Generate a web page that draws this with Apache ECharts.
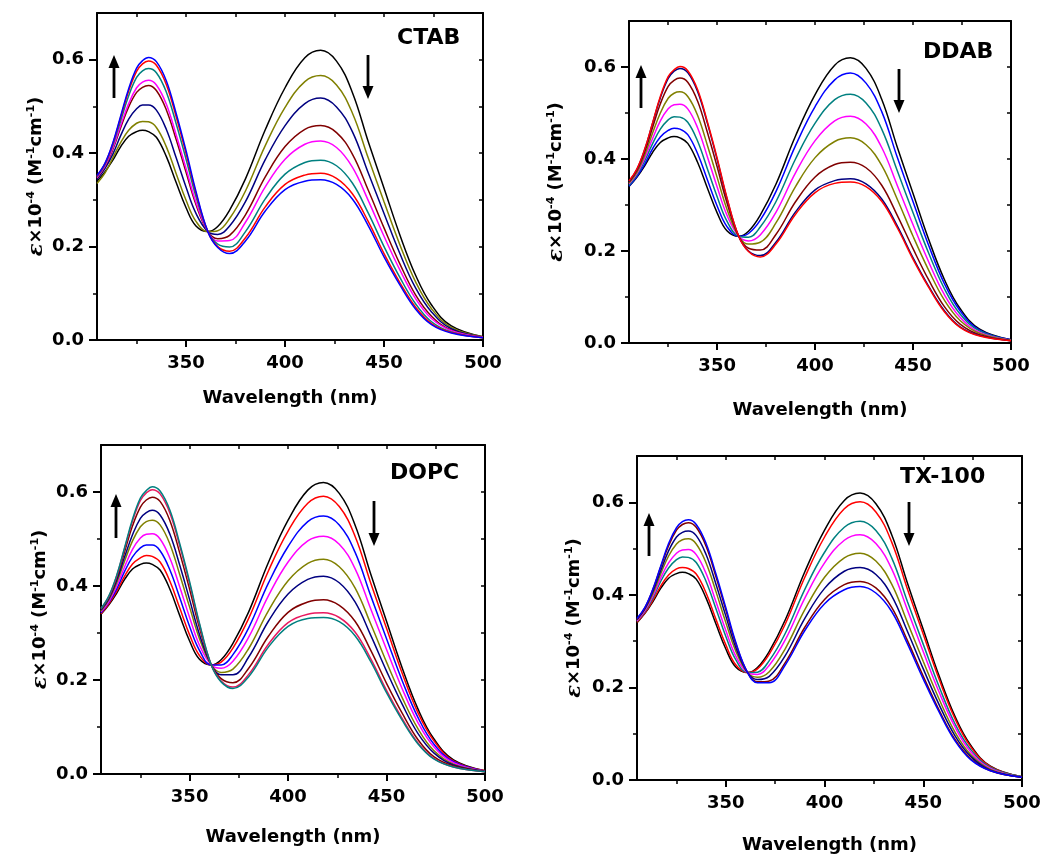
<!DOCTYPE html>
<html>
<head>
<meta charset="utf-8">
<script src="https://cdn.jsdelivr.net/npm/echarts@6/dist/echarts.min.js"></script>
<style>
html,body{margin:0;padding:0;background:#fff;}
#chart{width:1046px;height:854px;}
</style>
</head>
<body>
<div id="chart"></div>
<script>
// ---------------- DATA ----------------
const wavelength = [305,309,313,317,321,325,328,331,335,340,345,350,355,361,366,372,380,390,400,410,418,426,434,442,450,458,466,474,484,500];
const xTickLabels = [350,400,450,500];
const xMinorTicks = [325,375,425,475];
const yTickLabels = [0,0.2,0.4,0.6];
const yMinorTicks = [0.1,0.3,0.5];

// reference spectrum (black, first in every panel)
const water = [0.340,0.360,0.385,0.414,0.436,0.446,0.449,0.446,0.434,0.393,0.337,0.283,0.244,0.232,0.243,0.278,0.345,0.450,0.540,0.604,0.620,0.597,0.530,0.425,0.325,0.225,0.138,0.075,0.030,0.007];

// CTAB
const ctab1 = [0.335,0.357,0.390,0.423,0.449,0.464,0.468,0.467,0.455,0.414,0.356,0.299,0.254,0.232,0.234,0.260,0.319,0.416,0.498,0.553,0.566,0.546,0.486,0.390,0.296,0.204,0.124,0.067,0.027,0.007];
const ctab2 = [0.344,0.367,0.398,0.438,0.473,0.495,0.503,0.503,0.492,0.451,0.390,0.327,0.271,0.232,0.226,0.244,0.296,0.386,0.459,0.506,0.518,0.499,0.446,0.358,0.271,0.185,0.111,0.060,0.024,0.006];
const ctab3 = [0.347,0.371,0.408,0.455,0.499,0.530,0.541,0.545,0.534,0.493,0.429,0.359,0.290,0.232,0.217,0.224,0.268,0.349,0.414,0.451,0.459,0.444,0.398,0.321,0.240,0.163,0.096,0.051,0.021,0.006];
const ctab4 = [0.348,0.372,0.411,0.460,0.506,0.540,0.552,0.556,0.546,0.505,0.439,0.367,0.295,0.232,0.212,0.213,0.252,0.328,0.387,0.419,0.426,0.412,0.370,0.299,0.222,0.150,0.088,0.046,0.020,0.006];
const ctab5 = [0.350,0.375,0.417,0.470,0.523,0.562,0.576,0.581,0.572,0.531,0.463,0.387,0.307,0.232,0.205,0.199,0.232,0.302,0.355,0.380,0.385,0.373,0.336,0.272,0.200,0.134,0.077,0.039,0.017,0.005];
const ctab6 = [0.351,0.377,0.420,0.477,0.533,0.575,0.591,0.597,0.588,0.547,0.478,0.399,0.314,0.232,0.200,0.190,0.219,0.285,0.333,0.353,0.357,0.346,0.313,0.254,0.185,0.123,0.070,0.035,0.016,0.005];
const ctab7 = [0.352,0.378,0.422,0.480,0.538,0.582,0.598,0.605,0.596,0.555,0.485,0.405,0.318,0.232,0.198,0.185,0.212,0.276,0.322,0.340,0.343,0.333,0.302,0.245,0.178,0.118,0.066,0.033,0.015,0.005];

// DDAB
const ddab1 = [0.341,0.362,0.389,0.422,0.448,0.462,0.467,0.465,0.453,0.412,0.355,0.298,0.253,0.232,0.238,0.267,0.329,0.429,0.514,0.572,0.587,0.565,0.503,0.403,0.307,0.212,0.129,0.070,0.028,0.007];
const ddab2 = [0.343,0.365,0.396,0.433,0.465,0.485,0.492,0.491,0.480,0.439,0.379,0.318,0.265,0.232,0.230,0.252,0.307,0.400,0.478,0.529,0.541,0.522,0.465,0.374,0.283,0.195,0.118,0.063,0.026,0.006];
const ddab3 = [0.346,0.368,0.402,0.444,0.483,0.509,0.518,0.519,0.509,0.468,0.405,0.339,0.278,0.232,0.222,0.235,0.284,0.370,0.440,0.483,0.493,0.476,0.425,0.342,0.257,0.176,0.105,0.056,0.023,0.006];
const ddab4 = [0.348,0.371,0.408,0.456,0.500,0.532,0.543,0.546,0.536,0.495,0.430,0.360,0.291,0.232,0.215,0.219,0.261,0.340,0.403,0.438,0.446,0.431,0.386,0.312,0.232,0.158,0.093,0.049,0.021,0.006];
const ddab5 = [0.350,0.375,0.415,0.468,0.520,0.558,0.571,0.576,0.567,0.526,0.458,0.383,0.305,0.232,0.206,0.202,0.236,0.307,0.361,0.388,0.393,0.381,0.343,0.277,0.205,0.137,0.079,0.041,0.018,0.005];
const ddab6 = [0.351,0.377,0.420,0.477,0.533,0.575,0.591,0.597,0.588,0.547,0.478,0.399,0.314,0.232,0.200,0.190,0.219,0.285,0.333,0.353,0.357,0.346,0.313,0.254,0.185,0.123,0.070,0.035,0.016,0.005];
const ddab7 = [0.352,0.378,0.421,0.478,0.536,0.579,0.594,0.601,0.592,0.551,0.481,0.402,0.316,0.232,0.199,0.187,0.215,0.280,0.327,0.347,0.350,0.340,0.308,0.250,0.182,0.121,0.068,0.034,0.015,0.005];

// DOPC
const dopc1 = [0.341,0.362,0.389,0.421,0.447,0.460,0.465,0.463,0.451,0.410,0.353,0.296,0.252,0.232,0.238,0.268,0.331,0.432,0.517,0.576,0.591,0.569,0.506,0.406,0.310,0.214,0.130,0.071,0.028,0.007];
const dopc2 = [0.343,0.365,0.394,0.431,0.462,0.481,0.487,0.487,0.475,0.434,0.375,0.314,0.263,0.232,0.232,0.254,0.311,0.406,0.484,0.537,0.549,0.530,0.472,0.379,0.288,0.198,0.120,0.064,0.026,0.006];
const dopc3 = [0.345,0.367,0.400,0.441,0.478,0.502,0.510,0.511,0.500,0.459,0.398,0.333,0.274,0.232,0.225,0.240,0.291,0.379,0.451,0.496,0.506,0.489,0.437,0.351,0.265,0.181,0.109,0.058,0.024,0.006];
const dopc4 = [0.347,0.371,0.407,0.453,0.496,0.526,0.537,0.540,0.530,0.489,0.424,0.355,0.288,0.232,0.216,0.223,0.267,0.347,0.411,0.448,0.457,0.441,0.396,0.319,0.238,0.162,0.096,0.050,0.021,0.006];
const dopc5 = [0.349,0.373,0.412,0.462,0.509,0.544,0.556,0.561,0.551,0.510,0.444,0.371,0.297,0.232,0.211,0.211,0.249,0.325,0.383,0.414,0.421,0.407,0.366,0.295,0.219,0.148,0.086,0.045,0.019,0.006];
const dopc6 = [0.351,0.376,0.418,0.473,0.528,0.568,0.583,0.589,0.580,0.539,0.470,0.393,0.311,0.232,0.203,0.194,0.225,0.293,0.344,0.366,0.371,0.359,0.325,0.263,0.193,0.129,0.073,0.037,0.017,0.005];
const dopc7 = [0.352,0.378,0.422,0.480,0.538,0.582,0.598,0.605,0.596,0.555,0.485,0.405,0.318,0.232,0.198,0.185,0.212,0.276,0.322,0.340,0.343,0.333,0.302,0.245,0.178,0.118,0.066,0.033,0.015,0.005];
const dopc8 = [0.352,0.379,0.423,0.482,0.542,0.587,0.603,0.611,0.602,0.561,0.490,0.409,0.321,0.232,0.196,0.182,0.207,0.270,0.314,0.331,0.333,0.324,0.294,0.239,0.173,0.114,0.064,0.032,0.015,0.005];

// TX-100
const tx1 = [0.341,0.361,0.388,0.419,0.443,0.456,0.459,0.457,0.445,0.404,0.347,0.292,0.249,0.232,0.240,0.272,0.336,0.438,0.525,0.586,0.601,0.579,0.514,0.412,0.315,0.218,0.133,0.072,0.029,0.007];
const tx2 = [0.343,0.364,0.393,0.429,0.458,0.476,0.482,0.481,0.470,0.429,0.370,0.310,0.260,0.232,0.233,0.258,0.316,0.412,0.492,0.546,0.559,0.539,0.480,0.385,0.293,0.202,0.122,0.066,0.027,0.007];
const tx3 = [0.344,0.366,0.397,0.436,0.469,0.490,0.497,0.498,0.487,0.446,0.385,0.323,0.268,0.232,0.228,0.248,0.302,0.393,0.469,0.518,0.530,0.511,0.456,0.367,0.277,0.190,0.115,0.061,0.025,0.006];
const tx4 = [0.346,0.369,0.402,0.445,0.484,0.510,0.519,0.521,0.510,0.469,0.407,0.340,0.279,0.232,0.222,0.234,0.283,0.368,0.438,0.480,0.490,0.473,0.423,0.340,0.256,0.175,0.104,0.055,0.023,0.006];
const tx5 = [0.347,0.370,0.407,0.452,0.495,0.525,0.535,0.538,0.528,0.487,0.423,0.354,0.287,0.232,0.217,0.224,0.268,0.349,0.414,0.451,0.459,0.444,0.398,0.321,0.240,0.163,0.096,0.051,0.021,0.006];
const tx6 = [0.348,0.372,0.411,0.460,0.506,0.540,0.552,0.556,0.546,0.505,0.439,0.367,0.295,0.232,0.212,0.214,0.253,0.330,0.390,0.422,0.429,0.415,0.373,0.301,0.224,0.151,0.088,0.046,0.020,0.006];
const tx7 = [0.349,0.373,0.412,0.462,0.511,0.545,0.558,0.562,0.552,0.511,0.445,0.372,0.298,0.232,0.210,0.210,0.248,0.323,0.381,0.411,0.418,0.404,0.364,0.294,0.218,0.147,0.085,0.044,0.020,0.006];

const panelNames = ['CTAB','DDAB','DOPC','TX-100'];
const panelSeries = [
  [water, ctab1, ctab2, ctab3, ctab4, ctab5, ctab6, ctab7],
  [water, ddab1, ddab2, ddab3, ddab4, ddab5, ddab6, ddab7],
  [water, dopc1, dopc2, dopc3, dopc4, dopc5, dopc6, dopc7, dopc8],
  [water, tx1, tx2, tx3, tx4, tx5, tx6, tx7]
];

// ---------------- STYLE / LAYOUT ----------------
const C = {k:'#000000', ol:'#808000', nv:'#000080', mr:'#800000', mg:'#FF00FF', tl:'#008080', rd:'#FF0000', bl:'#0000FF', cr:'#E8185E'};
const panelColors = [
  [C.k, C.ol, C.nv, C.mr, C.mg, C.tl, C.rd, C.bl],
  [C.k, C.bl, C.tl, C.mg, C.ol, C.mr, C.nv, C.rd],
  [C.k, C.rd, C.bl, C.mg, C.ol, C.nv, C.mr, C.cr, C.tl],
  [C.k, C.rd, C.tl, C.mg, C.ol, C.nv, C.mr, C.bl]
];
const layout = [
  {grid:{left:97, top:13, width:386, height:327}, xGap:49, yGap:50, label:[397,38], up:[114,98,55], down:[368,55,99]},
  {grid:{left:629, top:21, width:382, height:322}, xGap:58, yGap:62, label:[923,52], up:[641,108,65], down:[899,69,113]},
  {grid:{left:101, top:445, width:384, height:329}, xGap:54, yGap:50, label:[390,473], up:[116,538,494], down:[374,501,546]},
  {grid:{left:637, top:456, width:385, height:324}, xGap:56, yGap:52, label:[900,477], up:[649,556,513], down:[909,502,546]}
];
const FONT = 'DejaVu Sans';
const AX = {color:'#000', width:2};

const grids = [], xAxes = [], yAxes = [], series = [], graphics = [];

function arrow(x, yTail, yTip) {
  const dir = yTip < yTail ? -1 : 1;
  const headLen = 13, headHalf = 5.5;
  const base = yTip - dir * headLen;
  graphics.push({type:'line', shape:{x1:x, y1:yTail, x2:x, y2:base + dir}, style:{stroke:'#000', lineWidth:2.8}, silent:true});
  graphics.push({type:'polygon', shape:{points:[[x-headHalf, base],[x+headHalf, base],[x, yTip]]}, style:{fill:'#000'}, silent:true});
}

layout.forEach((L, g) => {
  grids.push(Object.assign({outerBoundsMode:'none', containLabel:false}, L.grid));
  xAxes.push({
    gridIndex:g, type:'value', min:305, max:500, position:'bottom',
    axisLine:{show:true, onZero:false, lineStyle:AX},
    axisTick:{show:true, customValues:xTickLabels, length:7, lineStyle:AX},
    axisLabel:{customValues:xTickLabels, margin:14, fontFamily:FONT, fontWeight:'bold', fontSize:18, color:'#000'},
    splitLine:{show:false},
    name:'Wavelength (nm)', nameLocation:'middle', nameGap:L.xGap,
    nameTextStyle:{fontFamily:FONT, fontWeight:'bold', fontSize:18, color:'#000'}
  });
  xAxes.push({
    gridIndex:g, type:'value', min:305, max:500, position:'bottom',
    axisLine:{show:false, onZero:false},
    axisTick:{show:true, customValues:xMinorTicks, length:4, lineStyle:{color:'#000', width:1.5}},
    axisLabel:{show:false}, splitLine:{show:false}
  });
  xAxes.push({
    gridIndex:g, type:'value', min:305, max:500, position:'top',
    axisLine:{show:true, onZero:false, lineStyle:AX},
    axisTick:{show:true, inside:true, customValues:xMinorTicks.concat(xTickLabels.slice(0,3)), length:4, lineStyle:{color:'#000', width:1.5}},
    axisLabel:{show:false}, splitLine:{show:false}
  });
  yAxes.push({
    gridIndex:g, type:'value', min:0, max:0.7, position:'left',
    axisLine:{show:true, onZero:false, lineStyle:AX},
    axisTick:{show:true, customValues:yTickLabels, length:8, lineStyle:AX},
    axisLabel:{customValues:yTickLabels, margin:13, formatter:v => v.toFixed(1), fontFamily:FONT, fontWeight:'bold', fontSize:18, color:'#000'},
    splitLine:{show:false},
    name:'{e|ε}×10{s|-4} (M{s|-1}cm{s|-1})', nameLocation:'middle', nameRotate:90, nameGap:L.yGap,
    nameTextStyle:{fontFamily:FONT, fontWeight:'bold', fontSize:18, color:'#000',
      rich:{
        e:{fontFamily:'DejaVu Serif', fontStyle:'italic', fontWeight:'bold', fontSize:21, color:'#000'},
        s:{fontFamily:FONT, fontWeight:'bold', fontSize:11, verticalAlign:'top', color:'#000'}
      }}
  });
  yAxes.push({
    gridIndex:g, type:'value', min:0, max:0.7, position:'left',
    axisLine:{show:false, onZero:false},
    axisTick:{show:true, customValues:yMinorTicks, length:4, lineStyle:{color:'#000', width:1.5}},
    axisLabel:{show:false}, splitLine:{show:false}
  });
  yAxes.push({
    gridIndex:g, type:'value', min:0, max:0.7, position:'right',
    axisLine:{show:true, onZero:false, lineStyle:AX},
    axisTick:{show:true, inside:true, customValues:yMinorTicks.concat(yTickLabels.slice(1)), length:4, lineStyle:{color:'#000', width:1.5}},
    axisLabel:{show:false}, splitLine:{show:false}
  });

  panelSeries[g].forEach((vals, k) => {
    const col = panelColors[g][k];
    series.push({
      type:'line', name:panelNames[g] + '-' + k, xAxisIndex:3*g, yAxisIndex:3*g,
      data: wavelength.map((w, i) => [w, vals[i]]),
      showSymbol:false, symbol:'none', smooth:0.4, silent:true,
      lineStyle:{color:col, width:1.5}, itemStyle:{color:col},
      z: 2 + k
    });
  });

  graphics.push({type:'text', x:L.label[0], y:L.label[1], silent:true,
    style:{text:panelNames[g], fontFamily:FONT, fontWeight:'bold', fontSize:22, fill:'#000', align:'left', verticalAlign:'middle'}});
  arrow(L.up[0], L.up[1], L.up[2]);
  arrow(L.down[0], L.down[1], L.down[2]);
});

const chart = echarts.init(document.getElementById('chart'), null, {renderer:'canvas'});
chart.setOption({
  backgroundColor:'#ffffff',
  animation:false,
  grid:grids, xAxis:xAxes, yAxis:yAxes, series:series,
  graphic:graphics
});
</script>
</body>
</html>
